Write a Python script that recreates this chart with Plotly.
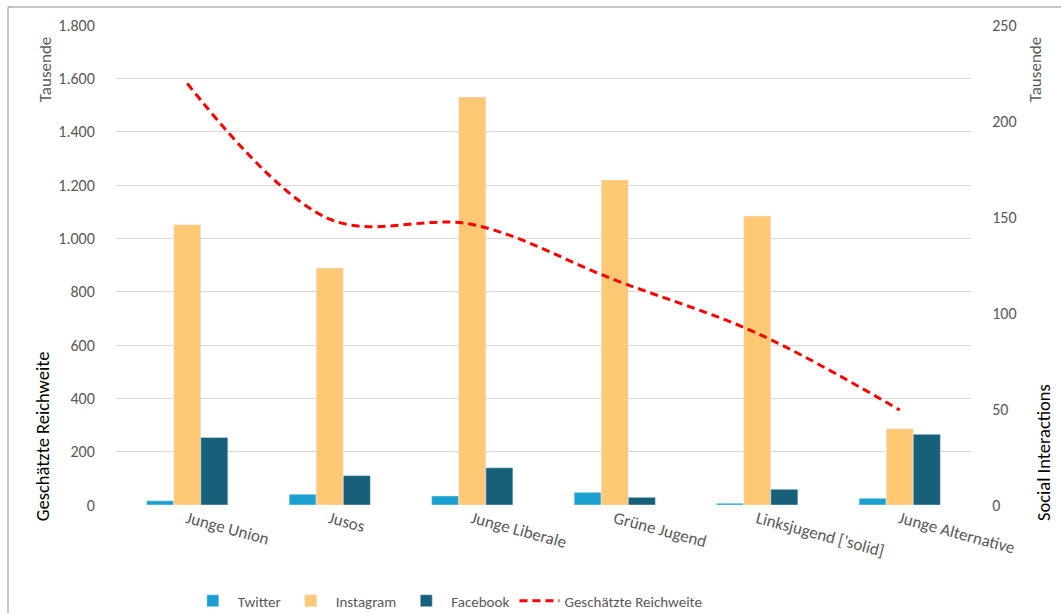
import plotly.graph_objects as go

categories = ["Junge Union", "Jusos", "Junge Liberale", "Grüne Jugend", "Linksjugend ['solid]", "Junge Alternative"]
twitter = [2.2, 5.6, 4.7, 6.6, 0.9, 3.5]
instagram = [146, 123.4, 212.5, 169.3, 150.5, 39.7]
facebook = [35.2, 15.3, 19.4, 4.0, 8.2, 36.8]
reichweite = [1581, 1072, 1052, 844, 644, 356]

left_ticks = [0, 200, 400, 600, 800, 1000, 1200, 1400, 1600, 1800]
right_ticks = [0, 50, 100, 150, 200, 250]

FONT = "Carlito, Lato, sans-serif"
GRAY = "#595959"

fig = go.Figure()
fig.add_trace(go.Bar(name="Twitter", x=categories, y=twitter, marker_color="#1ba1d1", yaxis="y"))
fig.add_trace(go.Bar(name="Instagram", x=categories, y=instagram, marker_color="#ffc875", yaxis="y"))
fig.add_trace(go.Bar(name="Facebook", x=categories, y=facebook, marker_color="#17607a", yaxis="y"))
fig.add_trace(go.Scatter(name="Geschätzte Reichweite", x=categories, y=reichweite, mode="lines",
                         line=dict(color="#ff0000", width=3, dash="8px,5px", shape="spline", smoothing=1),
                         yaxis="y2"))

fig.update_layout(
    width=1061, height=613,
    margin=dict(l=116, r=90, t=25, b=108, autoexpand=False),
    paper_bgcolor="white", plot_bgcolor="white",
    font=dict(family=FONT, size=15, color=GRAY),
    separators=",.",
    barmode="group", bargap=0.43, bargroupgap=0,
    xaxis=dict(tickangle=15, showgrid=False, showline=False, ticks="", automargin=False,
               tickfont=dict(size=17, color=GRAY)),
    yaxis=dict(side="right", range=[0, 250], tickvals=right_ticks, showgrid=False, automargin=False,
               zeroline=False, showline=False, ticks="outside", ticklen=17, tickcolor="rgba(0,0,0,0)",
               tickfont=dict(size=16, color=GRAY)),
    yaxis2=dict(side="left", overlaying="y", range=[0, 1800], tickvals=left_ticks, automargin=False,
                tickformat=",.0f", showgrid=True, gridcolor="#d9d9d9", gridwidth=1,
                zeroline=False, showline=False, ticks="outside", ticklen=17, tickcolor="rgba(0,0,0,0)",
                tickfont=dict(size=16, color=GRAY)),
    legend=dict(orientation="h", x=0.084, xanchor="left", y=-0.2, yanchor="middle",
                font=dict(size=15, color=GRAY), traceorder="normal", itemwidth=40),
    showlegend=True,
)

ann = [
    dict(text="Tausende", x=-0.083, y=0.906, font=dict(size=17, color=GRAY)),
    dict(text="Geschätzte Reichweite", x=-0.085, y=0.144, font=dict(size=18.5, color="#000000")),
    dict(text="Tausende", x=1.075, y=0.906, font=dict(size=17, color=GRAY)),
    dict(text="Social Interactions", x=1.084, y=0.11, font=dict(size=18.5, color="#000000")),
]
for a in ann:
    fig.add_annotation(xref="paper", yref="paper", textangle=-90, showarrow=False,
                       xanchor="center", yanchor="middle", **a)

fig.add_shape(type="rect", xref="paper", yref="paper", x0=-0.1263, x1=1.2, y0=-0.35, y1=1.0375,
              line=dict(color="#8c8c8c", width=1), fillcolor="rgba(0,0,0,0)", layer="above")

fig.write_html("out.html")
